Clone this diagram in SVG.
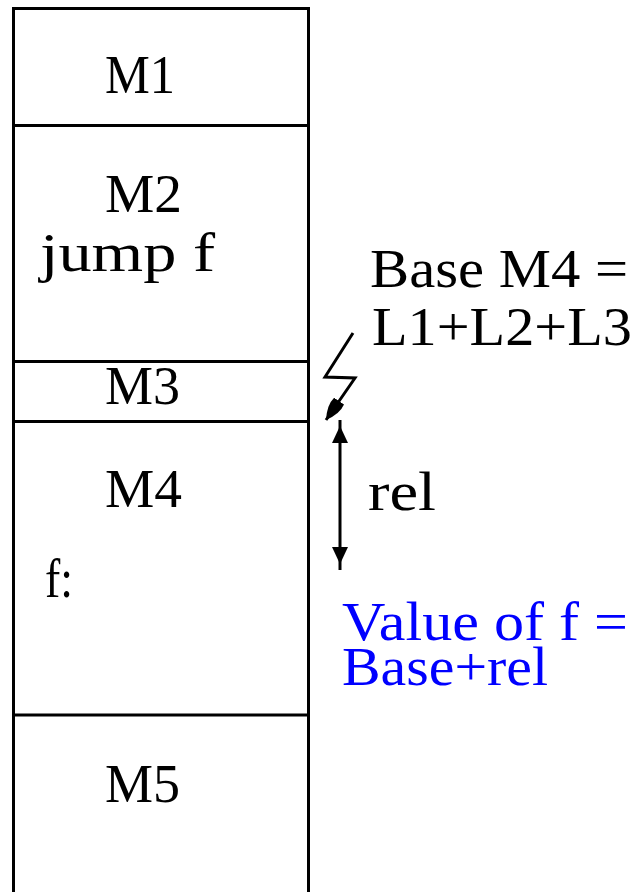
<svg xmlns="http://www.w3.org/2000/svg" width="635" height="892" viewBox="0 0 635 892">
  <style>
    .frame { fill: none; stroke: #000; stroke-width: 3; }
    .wire { fill: none; stroke: #000; stroke-width: 3; }
    .lbl { font-family: "Liberation Serif", "Times New Roman", serif; font-size: 54px; fill: #000; }
    .note { font-family: "Liberation Serif", "Times New Roman", serif; font-size: 54px; fill: #0000ff; }
  </style>
  <defs>
    <marker id="tip" markerUnits="userSpaceOnUse" markerWidth="30" markerHeight="18" viewBox="0 0 30 18" refX="23" refY="9" orient="auto-start-reverse">
      <path d="M0,1 L17,9 L0,17 z" fill="#000"/>
    </marker>
    <marker id="bolt" markerUnits="userSpaceOnUse" markerWidth="26" markerHeight="16" viewBox="0 0 26 16" refX="23" refY="8" orient="auto">
      <path d="M0,2 Q10,0 23,8 Q10,16 0,14 z" fill="#000"/>
    </marker>
  </defs>

  <!-- memory segments stacked in one column -->
  <g id="column">
    <path class="frame" d="M13.5,892 V8.5 H308.5 V892"/>
  </g>
  <g id="M1">
    <text class="lbl" x="105" y="93" textLength="70" lengthAdjust="spacingAndGlyphs">M1</text>
  </g>
  <g id="M2">
    <line class="frame" x1="13.5" y1="125.5" x2="308.5" y2="125.5"/>
    <text class="lbl" x="105" y="212" textLength="77" lengthAdjust="spacingAndGlyphs">M2</text>
    <text class="lbl" x="40" y="271" textLength="175" lengthAdjust="spacingAndGlyphs">jump  f</text>
  </g>
  <g id="M3">
    <line class="frame" x1="13.5" y1="361.5" x2="308.5" y2="361.5"/>
    <text class="lbl" x="105" y="404" textLength="75" lengthAdjust="spacingAndGlyphs">M3</text>
  </g>
  <g id="M4">
    <line class="frame" x1="13.5" y1="421.5" x2="308.5" y2="421.5"/>
    <text class="lbl" x="105" y="507" textLength="77" lengthAdjust="spacingAndGlyphs">M4</text>
    <text class="lbl" x="45" y="597" textLength="28" lengthAdjust="spacingAndGlyphs">f:</text>
  </g>
  <g id="M5">
    <line class="frame" x1="13.5" y1="715" x2="308.5" y2="715"/>
    <text class="lbl" x="105" y="802" textLength="75" lengthAdjust="spacingAndGlyphs">M5</text>
  </g>

  <!-- base address annotation -->
  <g id="base">
    <text class="lbl" x="370" y="287" textLength="258" lengthAdjust="spacingAndGlyphs">Base M4 =</text>
    <text class="lbl" x="372" y="345" textLength="260" lengthAdjust="spacingAndGlyphs">L1+L2+L3</text>
  </g>
  <g id="rel">
    <text class="lbl" x="368" y="510" textLength="68" lengthAdjust="spacingAndGlyphs">rel</text>
  </g>
  <g id="value">
    <text class="note" x="342" y="640" textLength="286" lengthAdjust="spacingAndGlyphs">Value of f =</text>
    <text class="note" x="342" y="685" textLength="206" lengthAdjust="spacingAndGlyphs">Base+rel</text>
  </g>

  <g id="connectors">
    <polyline class="wire" points="353,333 325,377 355,378 326,420" marker-end="url(#bolt)"/>
    <line class="wire" x1="340" y1="420" x2="340" y2="570" marker-start="url(#tip)" marker-end="url(#tip)"/>
  </g>
</svg>
